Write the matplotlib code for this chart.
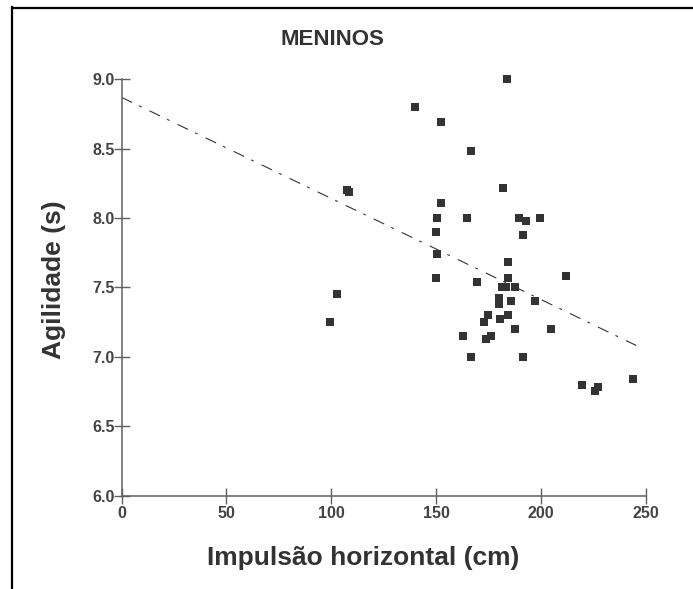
import matplotlib
matplotlib.use("Agg")
import matplotlib.pyplot as plt
from matplotlib.lines import Line2D
import numpy as np

plt.rcParams["font.family"] = ["Liberation Sans", "DejaVu Sans"]

# data: horizontal jump (cm) vs agility (s)
impulsao = [183.6, 139.8, 152.5, 166.8, 181.7, 152.5, 150.4, 164.9, 189.4, 192.6,
            199.6, 149.8, 191.5, 150.4, 184.4, 149.8, 184.4, 211.7, 169.3, 181.3,
            183.1, 187.5, 179.8, 179.8, 185.6, 196.9, 174.5, 172.6, 180.4, 184.4,
            187.5, 204.5, 163.0, 173.6, 176.0, 166.8, 191.5, 219.4, 227.2, 225.5,
            243.6, 107.6, 108.2, 102.8, 99.6]
agilidade = [9.00, 8.80, 8.69, 8.48, 8.22, 8.11, 8.00, 8.00, 8.00, 7.98,
             8.00, 7.90, 7.88, 7.74, 7.68, 7.57, 7.57, 7.58, 7.54, 7.50,
             7.50, 7.50, 7.42, 7.38, 7.40, 7.40, 7.30, 7.25, 7.27, 7.30,
             7.20, 7.20, 7.15, 7.13, 7.15, 7.00, 7.00, 6.80, 6.78, 6.75,
             6.84, 8.20, 8.19, 7.45, 7.25]

# trend line as drawn
reta_intercepto = 8.87
reta_inclinacao = -0.00729
reta_x = [0, 245.3]

xticks = [0, 50, 100, 150, 200, 250]
yticks = [6.0, 6.5, 7.0, 7.5, 8.0, 8.5, 9.0]

W, H = 693, 589
fig = plt.figure(figsize=(W / 100, H / 100), dpi=100)
ax = fig.add_axes([121.5 / W, 93.5 / H, (646 - 121.5) / W, (495.5 - 79.3) / H])

ax.plot(impulsao, agilidade, "s", color="#333333", markersize=5.2,
        markeredgewidth=0, clip_on=False)

rx = np.array(reta_x)
ax.plot(rx, reta_intercepto + reta_inclinacao * rx, color="#333333", lw=0.8,
        linestyle=(0, (10.5, 7, 2.5, 8)))

ax.set_xlim(0, 250)
ax.set_ylim(6.0, 9.0)
ax.set_xticks(xticks)
ax.set_yticks(yticks)
ax.set_yticklabels([f"{v:.1f}" for v in yticks])

for s in ["top", "right"]:
    ax.spines[s].set_visible(False)
for s in ["left", "bottom"]:
    ax.spines[s].set_color("#606060")
    ax.spines[s].set_linewidth(1.1)

ax.tick_params(axis="both", direction="inout", length=11.5, width=1.0,
               color="#606060", labelsize=11.5, labelcolor="#444444")
ax.tick_params(axis="y", pad=-1)
ax.tick_params(axis="x", pad=1.5)
for lab in ax.get_xticklabels() + ax.get_yticklabels():
    lab.set_fontweight("bold")

fig.text(332 / W, 1 - 39.5 / H, "MENINOS", ha="center", va="center",
         fontsize=16, fontweight="bold", color="#333333")
fig.text(363 / W, 1 - 558 / H, "Impulsão horizontal (cm)", ha="center",
         va="center", fontsize=19, fontweight="bold", color="#333333")
fig.text(54 / W, 1 - 280 / H, "Agilidade (s)", ha="center", va="center",
         rotation=90, fontsize=19, fontweight="bold", color="#333333")

# black frame (top and left edges)
fig.add_artist(Line2D([12.5 / W, 12.5 / W], [0, 1 - 7 / H], color="black",
                      lw=1.6, transform=fig.transFigure))
fig.add_artist(Line2D([12 / W, 1], [1 - 7.5 / H, 1 - 7.5 / H], color="black",
                      lw=1.6, transform=fig.transFigure))

fig.savefig("out.png", dpi=100)
